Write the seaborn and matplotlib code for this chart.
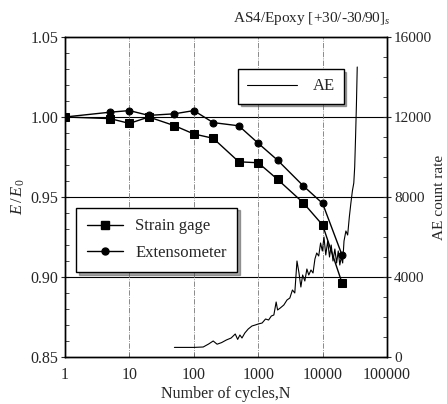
import numpy as np
import pandas as pd
import matplotlib
matplotlib.use("Agg")
import matplotlib.pyplot as plt
import seaborn as sns
from matplotlib.lines import Line2D
from matplotlib.ticker import FixedLocator, FixedFormatter, MultipleLocator, NullLocator

# ---- data ----
cycles_sg = [1, 5, 10, 20, 50, 100, 200, 500, 1000, 2000, 5000, 10000, 20000]
strain_gage = [1.000, 0.999, 0.996, 1.000, 0.9946, 0.9894, 0.9867, 0.972, 0.9714, 0.961, 0.9464, 0.9325, 0.8964]

cycles_ex = [1, 5, 10, 20, 50, 100, 200, 500, 1000, 2000, 5000, 10000, 20000]
extensometer = [1.000, 1.003, 1.004, 1.001, 1.002, 1.004, 0.9965, 0.9945, 0.9836, 0.973, 0.957, 0.946, 0.9138]

ae_cycles = [50, 70, 100, 140, 170, 200, 230, 270, 320, 380, 440, 480, 520, 560, 620, 700, 800, 900,
             1000, 1150, 1300, 1450, 1600, 1750, 1900, 2000, 2200, 2500, 2800, 3100, 3400, 3700, 4000,
             4300, 4600, 4900, 5300, 5700, 6100, 6600, 7100, 7600, 8100, 8700, 9300, 9900, 10500, 11200,
             12000, 12800, 13600, 14500, 15500, 16500, 17500, 18500, 19500, 20500, 21500, 23000, 24500,
             26000, 27500, 29000, 30500, 31500, 32500, 33500, 34500]
ae_rate = [480, 480, 480, 500, 650, 800, 640, 720, 850, 950, 1150, 880, 1100, 950, 1200, 1400, 1550, 1600,
           1650, 1700, 1900, 1850, 2050, 2100, 2750, 2350, 2450, 2600, 2850, 2950, 3350, 3200, 4800,
           4200, 3500, 4100, 3800, 4400, 4100, 4350, 4200, 4900, 5200, 5050, 5700, 5300, 6000, 5100,
           5800, 5000, 5600, 4800, 5400, 4700, 5300, 4600, 5000, 4700, 5800, 6300, 6100,
           7000, 7700, 8300, 8700, 9500, 11000, 12600, 14500]

x_ticks = [1, 10, 100, 1000, 10000, 100000]
x_labels = ["1", "10", "100", "1000", "10000", "100000"]
y_ticks = [0.85, 0.90, 0.95, 1.00, 1.05]
y_labels = ["0.85", "0.90", "0.95", "1.00", "1.05"]
y2_ticks = [0, 4000, 8000, 12000, 16000]
y2_labels = ["0", "4000", "8000", "12000", "16000"]

# ---- style ----
sns.set_theme(style="white")
plt.rcParams["font.family"] = ["Liberation Serif", "DejaVu Serif"]
plt.rcParams["mathtext.fontset"] = "custom"
plt.rcParams["mathtext.rm"] = "Liberation Serif"
plt.rcParams["mathtext.it"] = "Liberation Serif:italic"
plt.rcParams["axes.edgecolor"] = "black"
plt.rcParams["axes.linewidth"] = 1.0

fig = plt.figure(figsize=(4.47, 4.04), dpi=100)
ax = fig.add_axes([65 / 447, 1 - 357 / 404, 322 / 447, 320 / 404])

df_sg = pd.DataFrame({"N": cycles_sg, "E": strain_gage})
df_ex = pd.DataFrame({"N": cycles_ex, "E": extensometer})
df_ae = pd.DataFrame({"N": ae_cycles, "AE": ae_rate})

# grid lines
for yv in [0.90, 0.95, 1.00]:
    ax.axhline(yv, color="black", lw=0.8, zorder=1)
for xv in [10, 100, 1000, 10000]:
    ax.axvline(xv, color="#777777", lw=0.6, ls="-.", zorder=1)

sns.lineplot(data=df_sg, x="N", y="E", marker="s", markersize=5.5, color="black",
             lw=1.0, markeredgecolor="black", ax=ax, zorder=3)
sns.lineplot(data=df_ex, x="N", y="E", marker="o", markersize=5, color="black",
             lw=1.0, markeredgecolor="black", ax=ax, zorder=3)

ax.set_xscale("log")
ax.set_ylim(0.85, 1.05)
ax.yaxis.set_major_locator(FixedLocator(y_ticks))
ax.yaxis.set_major_formatter(FixedFormatter(y_labels))
ax.yaxis.set_minor_locator(MultipleLocator(0.01))
ax.tick_params(axis="y", which="major", direction="inout", length=6, width=0.8, labelsize=11.5, pad=2, left=True)
ax.tick_params(axis="y", which="minor", direction="in", length=3, width=0.6, left=True)
ax.tick_params(axis="x", which="major", direction="in", length=3, width=0.6, labelsize=11.5, pad=7, bottom=True)
ax.set_xlabel("Number of cycles,N", fontsize=11.5, labelpad=2)
ax.set_ylabel(r"$E\,/\,E_0$", fontsize=12, labelpad=2)

ax2 = ax.twinx()
sns.lineplot(data=df_ae, x="N", y="AE", color="black", lw=0.8, ax=ax2, sort=False)
ax2.set_ylim(0, 16000)
ax2.yaxis.set_major_locator(FixedLocator(y2_ticks))
ax2.yaxis.set_major_formatter(FixedFormatter(y2_labels))
ax2.yaxis.set_minor_locator(MultipleLocator(1000))
ax2.tick_params(axis="y", which="major", direction="inout", length=6, width=0.8, labelsize=11, pad=2, right=True)
ax2.tick_params(axis="y", which="minor", direction="in", length=3, width=0.6, right=True)
ax2.set_ylabel("AE count rate", fontsize=11, labelpad=1)
ax2.grid(False)

# x axis (shared) set last so the twin does not reset it
ax.set_xlim(1, 100000)
ax.xaxis.set_major_locator(FixedLocator(x_ticks))
ax.xaxis.set_major_formatter(FixedFormatter(x_labels))
ax.xaxis.set_minor_locator(NullLocator())
ax2.xaxis.set_major_locator(FixedLocator(x_ticks))
ax2.xaxis.set_major_formatter(FixedFormatter(x_labels))
ax2.xaxis.set_minor_locator(NullLocator())

# legends
h1 = [Line2D([], [], color="black", marker="s", markersize=5.5, lw=1.0),
      Line2D([], [], color="black", marker="o", markersize=5, lw=1.0)]
leg1 = ax.legend(h1, ["Strain gage", "Extensometer"], loc="upper left",
                 bbox_to_anchor=(0.034, 0.467), frameon=True, fancybox=False, shadow=True,
                 edgecolor="black", fontsize=12, handlelength=2.2, borderpad=0.65,
                 labelspacing=0.65, handletextpad=0.7, borderaxespad=0)
leg1.get_frame().set_linewidth(1.0)
leg1.set_zorder(5)

h2 = [Line2D([], [], color="black", lw=0.8)]
leg2 = ax2.legend(h2, ["AE"], loc="upper left", bbox_to_anchor=(0.538, 0.899),
                  frameon=True, fancybox=False, shadow=True, edgecolor="black", fontsize=12,
                  handlelength=3.0, borderpad=0.55, handletextpad=0.9, borderaxespad=0)
leg2.get_frame().set_linewidth(1.0)

fig.text(0.873, 0.955, r"AS4/Epoxy [+30/-30/90]$_{\mathit{s}}$", ha="right", va="center", fontsize=11)

fig.savefig("out.png", dpi=100)
